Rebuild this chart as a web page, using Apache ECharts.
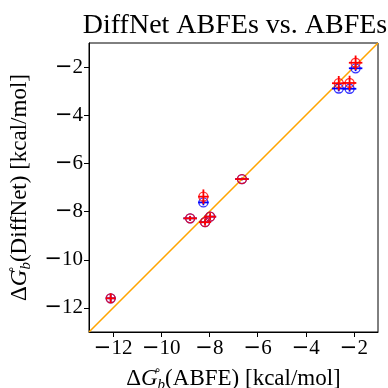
<!DOCTYPE html>
<html>
<head>
<meta charset="utf-8">
<script src="https://cdn.jsdelivr.net/npm/echarts@6/dist/echarts.min.js"></script>
<style>
  html, body { margin: 0; padding: 0; background: #fff; }
  #chart { width: 388px; height: 388px; }
</style>
</head>
<body>
<div id="chart"></div>
<script>
// ABFE reference values (x) and DiffNet predictions (y)
const abfe = [-12.1, -8.8, -8.25, -8.18, -7.97, -6.65, -2.63, -2.18, -1.93];
const diffnetRed = [-11.6, -8.28, -7.38, -8.44, -8.21, -6.65, -2.67, -2.66, -1.82];
const diffnetBlue = [-11.6, -8.28, -7.62, -8.44, -8.21, -6.65, -2.89, -2.9, -2.05];
const abfeErr = [0.2, 0.28, 0.22, 0.25, 0.25, 0.28, 0.28, 0.28, 0.28];
const redErr = [0.2, 0.1, 0.3, 0.15, 0.15, 0.05, 0.3, 0.3, 0.3];
const blueErr = [0.15, 0.1, 0.12, 0.1, 0.1, 0.05, 0.12, 0.12, 0.12];
const tickValues = [-12, -10, -8, -6, -4, -2];
const diagonal = [[-13, -13], [-1, -1]];

const serif = "Liberation Serif";

function errorBars(color) {
  return function (params, api) {
    const x = api.value(0), y = api.value(1), ex = api.value(2), ey = api.value(3);
    const l = api.coord([x - ex, y]), r = api.coord([x + ex, y]);
    const t = api.coord([x, y + ey]), b = api.coord([x, y - ey]);
    const style = { stroke: color, lineWidth: 1.8 };
    return {
      type: "group",
      children: [
        { type: "line", shape: { x1: l[0], y1: l[1], x2: r[0], y2: r[1] }, style: style },
        { type: "line", shape: { x1: t[0], y1: t[1], x2: b[0], y2: b[1] }, style: style }
      ]
    };
  };
}

function fmt(v) {
  return v < 0 ? "{m|\u2212}{n|" + Math.abs(v) + "}" : "{n|" + v + "}";
}

const labelRich = {
  m: { fontFamily: "DejaVu Sans", fontSize: 21, color: "#000" },
  n: { fontFamily: serif, fontSize: 21, color: "#000" }
};

function nameRich() {
  return {
    n: { fontFamily: serif, fontSize: 23, color: "#000", lineHeight: 28 },
    it: { fontFamily: serif, fontStyle: "italic", fontSize: 23, color: "#000", lineHeight: 28 },
    sup: { fontFamily: "DejaVu Sans", fontSize: 12, color: "#000", verticalAlign: "top", lineHeight: 28, width: 0 },
    sub: { fontFamily: serif, fontStyle: "italic", fontSize: 15, color: "#000", verticalAlign: "bottom", lineHeight: 24 }
  };
}

const blueData = abfe.map((x, i) => [x, diffnetBlue[i], abfeErr[i], blueErr[i]]);
const redData = abfe.map((x, i) => [x, diffnetRed[i], abfeErr[i], redErr[i]]);

const chart = echarts.init(document.getElementById("chart"));
chart.setOption({
  animation: false,
  title: {
    text: "DiffNet ABFEs vs. ABFEs",
    left: 230,
    top: 7,
    textAlign: "center",
    textStyle: { fontFamily: serif, fontSize: 28, fontWeight: "normal", color: "#000" }
  },
  grid: {
    left: 89, right: 10, top: 43, bottom: 56,
    outerBoundsMode: "none",
    show: true, borderColor: "#000", borderWidth: 1
  },
  xAxis: {
    type: "value",
    min: -13,
    max: -1,
    name: "{n|\u0394}{it|G}{sup|\u2218}{sub|b}{n|(ABFE) [kcal/mol]}",
    nameLocation: "middle",
    nameGap: 33,
    nameTextStyle: { rich: nameRich() },
    splitLine: { show: false },
    axisLine: { onZero: false, lineStyle: { color: "#000", width: 1 } },
    axisTick: { show: true, inside: false, length: 5, customValues: tickValues, lineStyle: { color: "#000" } },
    axisLabel: { customValues: tickValues, margin: 6, formatter: fmt, rich: labelRich }
  },
  yAxis: {
    type: "value",
    min: -13,
    max: -1,
    name: "{n|\u0394}{it|G}{sup|\u2218}{sub|b}{n|(DiffNet) [kcal/mol]}",
    nameLocation: "middle",
    nameGap: 53,
    nameTextStyle: { rich: nameRich() },
    splitLine: { show: false },
    axisLine: { onZero: false, lineStyle: { color: "#000", width: 1 } },
    axisTick: { show: true, inside: false, length: 5, customValues: tickValues, lineStyle: { color: "#000" } },
    axisLabel: { customValues: tickValues, margin: 6, formatter: fmt, rich: labelRich }
  },
  series: [
    {
      type: "line",
      data: diagonal,
      symbol: "none",
      lineStyle: { color: "#FFA500", width: 1.6 },
      z: 1
    },
    {
      type: "custom",
      renderItem: errorBars("#0000ff"),
      data: blueData,
      z: 2
    },
    {
      type: "scatter",
      data: blueData.map(d => [d[0], d[1]]),
      symbol: "circle",
      symbolSize: 9,
      itemStyle: { color: "rgba(0,0,0,0)", borderColor: "#0000ff", borderWidth: 1.3 },
      z: 3
    },
    {
      type: "custom",
      renderItem: errorBars("#ff0000"),
      data: redData,
      z: 4
    },
    {
      type: "scatter",
      data: redData.map(d => [d[0], d[1]]),
      symbol: "circle",
      symbolSize: 9,
      itemStyle: { color: "rgba(0,0,0,0)", borderColor: "#ff0000", borderWidth: 1.3 },
      z: 5
    }
  ]
});
</script>
</body>
</html>
